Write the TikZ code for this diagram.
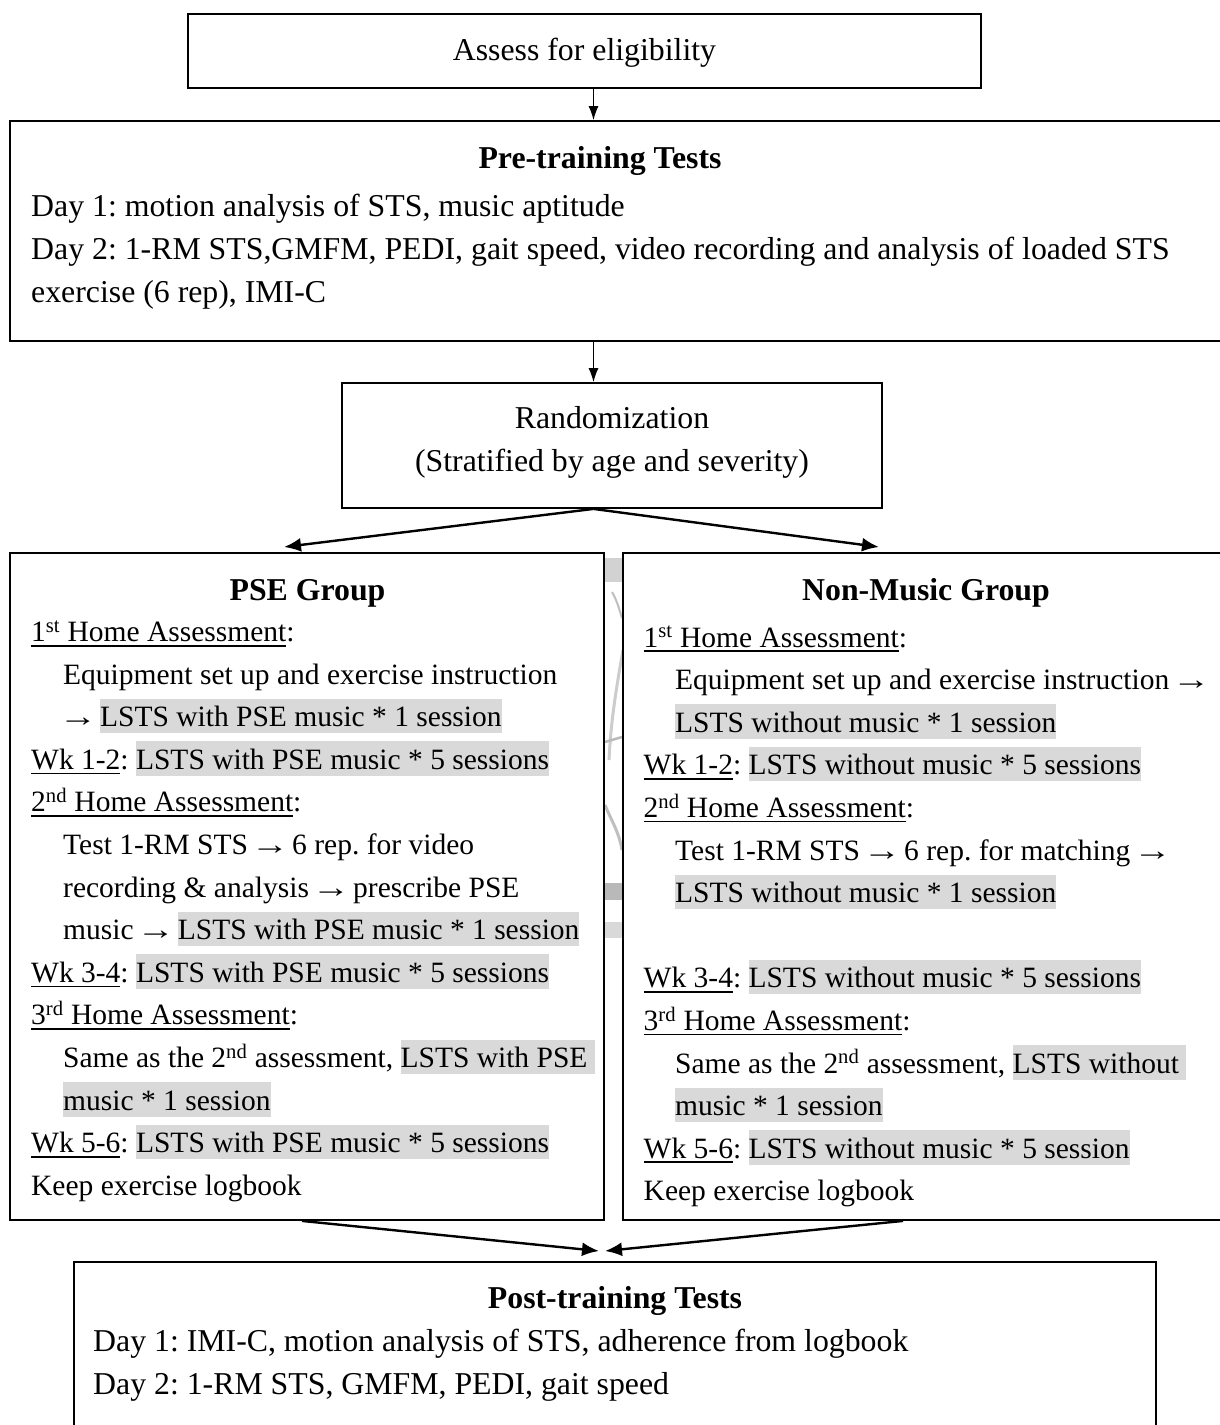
\documentclass[tikz,border=0pt]{standalone}
\usepackage{fontspec}
\usepackage{graphicx}
\setmainfont{Liberation Serif}
\usetikzlibrary{arrows.meta}
\definecolor{hlgray}{RGB}{217,217,217}
\newcommand\hlx[1]{{\setlength{\fboxsep}{0pt}\colorbox{hlgray}{\rule[-6.5pt]{0pt}{34.5pt}#1}}}
\newcommand\ulx[1]{\setbox0\hbox{#1}\rlap{\rule[-5pt]{\wd0}{1.8pt}}\box0}
\newcommand\rarr{\sbox0{→}\makebox[\wd0]{\scalebox{1.3}[1]{→}}}
\newcommand\bigf{\fontsize{31.8pt}{43pt}\selectfont\frenchspacing}
\newcommand\smallf{\fontsize{29.5pt}{42.6pt}\selectfont\frenchspacing}
\begin{document}
\begin{tikzpicture}[x=1pt, y=-1pt,
  box/.style={draw, rectangle, line width=1.8pt, inner sep=0pt},
  ts/.style={anchor=base west, inner sep=0pt, font=\smallf},
  tb/.style={anchor=base west, inner sep=0pt, font=\bigf},
  tc/.style={anchor=base, inner sep=0pt, font=\bigf},
  ttl/.style={anchor=base, inner sep=0pt, font=\bigf\bfseries},
  arr/.style={line width=1.3pt, -{Latex[length=14pt,width=10pt]}},
  darr/.style={line width=2.4pt, -{Latex[length=17pt,width=14pt]}}]
\useasboundingbox (0,0) rectangle (1220,1425);
\clip (0,0) rectangle (1220,1425);
\fill[white] (0,0) rectangle (1220,1425);

% watermark strip between the group boxes
\begin{scope}
\clip (605,553) rectangle (622,1000);
\fill[gray!35] (604,558) rectangle (623,582);
\draw[gray!50, line width=2pt] (612,592) .. controls (617,600) and (620,612) .. (622,618);
\draw[gray!40, line width=3pt] (623,650) .. controls (616,690) and (611,720) .. (609,760);
\draw[gray!55, line width=2.5pt] (605,742) -- (622,737);
\draw[gray!50, line width=3pt] (605,805) .. controls (612,822) and (619,832) .. (622,850);
\fill[gray!55] (604,883) rectangle (623,900);
\fill[gray!30] (604,922) rectangle (623,938);
\end{scope}

% boxes
\node[box, minimum width=793pt, minimum height=74pt] (elig) at (584.5,51) {};
\node[box, minimum width=1225pt, minimum height=220pt] (pre) at (622.5,231) {};
\node[box, minimum width=540pt, minimum height=125pt] (rand) at (612,445.5) {};
\node[box, minimum width=594pt, minimum height=667pt] (pse) at (307,886.5) {};
\node[box, minimum width=612pt, minimum height=667pt] (nm) at (929,886.5) {};
\node[box, minimum width=1082pt, minimum height=178pt] (post) at (615,1351) {};

% texts
\node[tc] (eligt) at (584.5,60) {Assess for eligibility};

\node[ttl] (pret) at (600,168) {Pre-training Tests};
\node[tb] (pre1) at (31,216) {Day 1: motion analysis of STS, music aptitude};
\node[tb] (pre2) at (31,259) {Day 2: 1-RM STS,GMFM, PEDI, gait speed, video recording and analysis of loaded STS};
\node[tb] (pre3) at (31,302) {exercise (6 rep), IMI-C};

\node[tc] (rand1) at (612,428) {Randomization};
\node[tc] (rand2) at (612,471) {(Stratified by age and severity)};

\node[ttl] (pset) at (307.5,600) {PSE Group};
\node[ts] (pse0) at (31,641.5) {\ulx{1\textsuperscript{st} Home Assessment}:};
\node[ts] (pse1) at (63,684.1) {Equipment set up and exercise instruction};
\node[ts] (pse2) at (63,726.7) {\rarr{} \hlx{LSTS with PSE music * 1 session}};
\node[ts] (pse3) at (31,769.3) {\ulx{Wk 1-2}: \hlx{LSTS with PSE music * 5 sessions}};
\node[ts] (pse4) at (31,811.9) {\ulx{2\textsuperscript{nd} Home Assessment}:};
\node[ts] (pse5) at (63,854.5) {Test 1-RM STS \rarr{} 6 rep. for video};
\node[ts] (pse6) at (63,897.1) {recording \& analysis \rarr{} prescribe PSE};
\node[ts] (pse7) at (63,939.7) {music \rarr{} \hlx{LSTS with PSE music * 1 session}};
\node[ts] (pse8) at (31,982.3) {\ulx{Wk 3-4}: \hlx{LSTS with PSE music * 5 sessions}};
\node[ts] (pse9) at (31,1024.9) {\ulx{3\textsuperscript{rd} Home Assessment}:};
\node[ts] (pse10) at (63,1067.5) {Same as the 2\textsuperscript{nd} assessment, \hlx{LSTS with PSE\ }};
\node[ts] (pse11) at (63,1110.1) {\hlx{music * 1 session}};
\node[ts] (pse12) at (31,1152.7) {\ulx{Wk 5-6}: \hlx{LSTS with PSE music * 5 sessions}};
\node[ts] (pse13) at (31,1195.3) {Keep exercise logbook};

\node[ttl] (nmt) at (926,600) {Non-Music Group};
\node[ts] (nm0) at (643.5,647) {\ulx{1\textsuperscript{st} Home Assessment}:};
\node[ts] (nm1) at (675,689.6) {Equipment set up and exercise instruction \rarr};
\node[ts] (nm2) at (675,732.2) {\hlx{LSTS without music * 1 session}};
\node[ts] (nm3) at (643.5,774.8) {\ulx{Wk 1-2}: \hlx{LSTS without music * 5 sessions}};
\node[ts] (nm4) at (643.5,817.4) {\ulx{2\textsuperscript{nd} Home Assessment}:};
\node[ts] (nm5) at (675,860) {Test 1-RM STS \rarr{} 6 rep. for matching \rarr};
\node[ts] (nm6) at (675,902.6) {\hlx{LSTS without music * 1 session}};
\node[ts] (nm8) at (643.5,987.8) {\ulx{Wk 3-4}: \hlx{LSTS without music * 5 sessions}};
\node[ts] (nm9) at (643.5,1030.4) {\ulx{3\textsuperscript{rd} Home Assessment}:};
\node[ts] (nm10) at (675,1073) {Same as the 2\textsuperscript{nd} assessment, \hlx{LSTS without\ }};
\node[ts] (nm11) at (675,1115.6) {\hlx{music * 1 session}};
\node[ts] (nm12) at (643.5,1158.2) {\ulx{Wk 5-6}: \hlx{LSTS without music * 5 session}};
\node[ts] (nm13) at (643.5,1200.8) {Keep exercise logbook};

\node[ttl] (postt) at (615,1308) {Post-training Tests};
\node[tb] (post1) at (93,1351) {Day 1: IMI-C, motion analysis of STS, adherence from logbook};
\node[tb] (post2) at (93,1394) {Day 2: 1-RM STS, GMFM, PEDI, gait speed};

% connectors
\coordinate (a1) at ([xshift=9pt]elig.south);
\draw[arr] (a1) -- (a1 |- pre.north);
\coordinate (a2) at (a1 |- pre.south);
\draw[arr] (a2) -- (a2 |- rand.north);
\coordinate (a3) at ([xshift=-18.5pt]rand.south);
\coordinate (tipL) at (284,547);
\coordinate (tipR) at (879,547);
\draw[darr] (a3) -- (tipL);
\draw[darr] (a3) -- (tipR);
\coordinate (b1) at ([xshift=-5pt]pse.south);
\coordinate (b2) at ([xshift=-26pt]nm.south);
\coordinate (tipM1) at (599,1251);
\coordinate (tipM2) at (605,1251);
\draw[darr] (b1) -- (tipM1);
\draw[darr] (b2) -- (tipM2);
\end{tikzpicture}
\end{document}
